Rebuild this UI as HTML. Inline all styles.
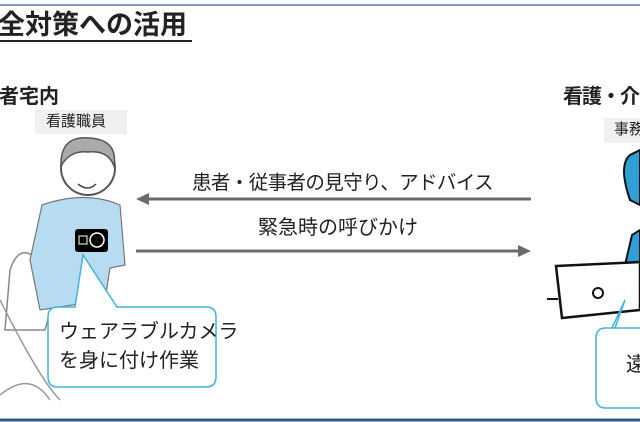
<!DOCTYPE html>
<html><head><meta charset="utf-8"><style>
body{margin:0;width:640px;height:422px;background:#fff;overflow:hidden;position:relative;font-family:"Liberation Sans","Noto Sans CJK JP",sans-serif;color:#222}
.a{position:absolute;white-space:nowrap}
</style></head><body>
<svg class="a" style="left:0;top:0" width="640" height="422">
<line x1="0" y1="5" x2="640" y2="5" stroke="#7f9db4" stroke-width="2"/>
<line x1="0" y1="420" x2="640" y2="420" stroke="#2f5a86" stroke-width="3"/>
<line x1="0" y1="41" x2="192" y2="41" stroke="#222" stroke-width="2"/>
<rect x="35" y="110" width="92" height="24" fill="#f0f0f0"/>
<rect x="604" y="118" width="40" height="25" fill="#f0f0f0"/>
<path d="M10 270 Q20 240 40 262 L60 275 L45 330 L5 330 Z" fill="none" stroke="#888" stroke-width="1.5"/>
<path d="M0 300 Q40 380 60 400 M0 395 Q30 370 50 400" fill="none" stroke="#999" stroke-width="1.5"/>
<path d="M42 205 Q85 190 120 205 L125 265 L110 268 L105 300 L40 310 L30 260 Z" fill="#b7dcf2" stroke="#777" stroke-width="1.2"/>
<circle cx="88" cy="168" r="27" fill="#fff" stroke="#555" stroke-width="2"/>
<path d="M61 166 Q60 135 90 138 Q118 140 114 166 Q108 150 88 152 Q70 150 61 166Z" fill="#aaa" stroke="#555" stroke-width="1.5"/>
<path d="M78 184 Q88 192 96 184" fill="none" stroke="#444" stroke-width="1.5"/>
<rect x="75" y="229" width="33" height="23" rx="3" fill="#000"/>
<rect x="79" y="236" width="8" height="8" fill="none" stroke="#fff"/>
<circle cx="97" cy="240" r="7" fill="none" stroke="#fff" stroke-width="1.5"/>
<path d="M58 307 L75 307 L83 255 L117 307 L206 307 Q216 307 216 317 L216 377 Q216 387 206 387 L58 387 Q48 387 48 377 L48 317 Q48 307 58 307Z" fill="#fff" stroke="#3cb4dc" stroke-width="1.5"/>
<line x1="147" y1="199" x2="531" y2="199" stroke="#6b6b6b" stroke-width="3"/>
<polygon points="136,199 149,193 149,205" fill="#6b6b6b"/>
<line x1="136" y1="251" x2="520" y2="251" stroke="#6b6b6b" stroke-width="3"/>
<polygon points="531,251 518,245 518,257" fill="#6b6b6b"/>
<path d="M630 155 Q618 165 630 200 L640 205 L640 150 Z" fill="#2f9fd6" stroke="#111" stroke-width="2"/>
<path d="M625 265 L632 235 L640 230 L640 270 Z" fill="#2f9fd6" stroke="#111" stroke-width="2"/>
<path d="M556 266 L640 262 L640 310 L562 318 Z" fill="#fff" stroke="#111" stroke-width="2.5"/>
<line x1="547" y1="299" x2="558" y2="299" stroke="#111" stroke-width="2"/>
<circle cx="598" cy="293" r="5" fill="#fff" stroke="#111" stroke-width="2"/>
<path d="M640 328 L612 328 L625 300 L615 328 L606 328 Q596 328 596 338 L596 398 Q596 408 606 408 L640 408" fill="#fff" stroke="#3cb4dc" stroke-width="1.5"/>
</svg>
<div class="a" style="left:-2px;top:9px;font-size:27px;font-weight:bold;line-height:32px">全対策への活用</div>
<div class="a" style="left:-1px;top:85px;font-size:20px;font-weight:bold;line-height:24px">者宅内</div>
<div class="a" style="left:46px;top:111px;font-size:15px;line-height:22px">看護職員</div>
<div class="a" style="left:563px;top:85px;font-size:20px;font-weight:bold;line-height:24px;letter-spacing:-1px">看護・介</div>
<div class="a" style="left:614px;top:119px;font-size:15px;line-height:22px">事務</div>
<div class="a" style="left:192px;top:170px;font-size:19.5px;line-height:26px;letter-spacing:-0.6px">患者・従事者の見守り、アドバイス</div>
<div class="a" style="left:258px;top:215px;font-size:20px;line-height:26px">緊急時の呼びかけ</div>
<div class="a" style="left:59px;top:318px;font-size:20px;line-height:29px">ウェアラブルカメラ<br>を身に付け作業</div>
<div class="a" style="left:626px;top:352px;font-size:20px;line-height:26px">遠</div>
</body></html>
